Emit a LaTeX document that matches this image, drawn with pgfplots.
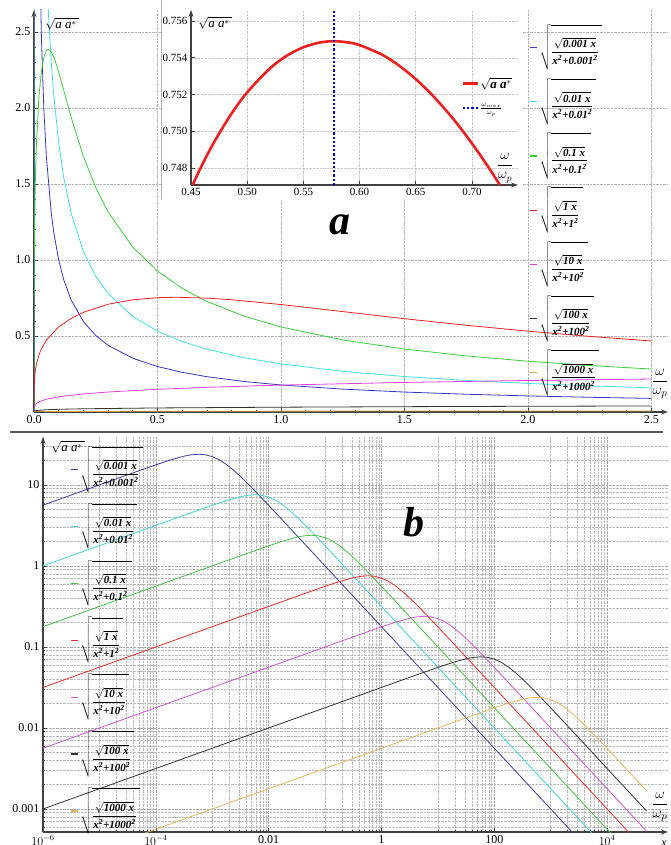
\documentclass[border=0pt]{standalone}
\usepackage{fontspec}
\setmainfont{Liberation Serif}
\usepackage{amsmath}
\usepackage{pgfplots}
\pgfplotsset{compat=1.18}
\usetikzlibrary{arrows.meta}
% top panel colours
\definecolor{cA}{HTML}{3535C8}
\definecolor{cB}{HTML}{40E0E0}
\definecolor{cC}{HTML}{3CCF3C}
\definecolor{cD}{HTML}{EE2020}
\definecolor{cE}{HTML}{E040E0}
\definecolor{cF}{HTML}{333333}
\definecolor{cG}{HTML}{D9A44A}
% bottom panel colours
\definecolor{bA}{HTML}{3A3A9A}
\definecolor{bB}{HTML}{40D4D4}
\definecolor{bC}{HTML}{44C044}
\definecolor{bD}{HTML}{F02828}
\definecolor{bE}{HTML}{CC55CC}
\definecolor{bF}{HTML}{333333}
\definecolor{bG}{HTML}{E2B460}
\newcommand\lf[1]{$\sqrt{\rule[-13pt]{0pt}{40pt}\genfrac{}{}{0.9pt}{0}{\sqrt{\text{\bfseries\itshape #1 x}}}{\text{\bfseries\itshape x\textsuperscript{2}+#1\textsuperscript{2}}}\hspace{3pt}}$}
\pgfplotsset{
  myaxis/.style={
    scale only axis, anchor=south west,
    axis lines=left,
    axis line style={-{Stealth[length=7pt,width=5pt]}, line width=1.1pt, black!75},
    tick align=inside, major tick length=4pt, minor tick length=2pt,
    tick style={black!75, line width=0.6pt},
    ticklabel style={font=\fontsize{12}{14}\selectfont},
    every axis plot/.append style={line width=0.8pt},
  }
}
\begin{document}
\begin{tikzpicture}
\useasboundingbox (0pt,0pt) rectangle (670pt,845pt);
% ---------------- panel a ----------------
\begin{axis}[myaxis,
  width=634pt, height=402pt, at={(34pt,433pt)},
  xmin=0, xmax=2.567, ymin=0, ymax=2.645,
  xtick={0,0.5,1,1.5,2,2.5}, xticklabels={0.0,0.5,1.0,1.5,2.0,2.5},
  ytick={0.5,1,1.5,2,2.5}, yticklabels={0.5,1.0,1.5,2.0,2.5},
  minor x tick num=4, minor y tick num=4,
  grid=major, major grid style={densely dotted, gray!60, line width=0.5pt},
  legend style={draw=none, fill=none, at={(0.781,0.965)}, anchor=north west,
    font=\fontsize{11}{13}\selectfont, inner sep=0pt, row sep=21.8pt,
    nodes={inner xsep=2pt, inner ysep=0pt}},
  legend cell align=left,
  legend image code/.code={\draw[#1, line width=1.3pt] (0pt,-7pt) -- (7pt,-7pt);},
]
\addplot[cA] coordinates {(0,0) (0.000577,23.87) (0.002,16.818) (0.005,9.274) (0.01,5.5955) (0.02,3.3395) (0.03,2.4652) (0.04,1.9876) (0.05,1.6815) (0.07,1.3066) (0.08,1.1821) (0.1,0.99995) (0.12,0.87221) (0.15,0.73784) (0.2,0.59459) (0.25,0.50297) (0.3,0.43870) (0.4,0.35355) (0.5,0.29907) (0.6,0.26085) (0.7,0.23237) (0.85,0.20088) (1,0.17783) (1.25,0.15042) (1.5,0.13121) (1.75,0.11688) (2,0.10574) (2.25,0.096797) (2.5,0.089443)};
\addlegendentry{\lf{0.001}}
\addplot[cB] coordinates {(0,0) (0.0005,4.7228) (0.002,6.5575) (0.00577,7.549) (0.01,7.0711) (0.02,5.3184) (0.03,4.1612) (0.04,3.4300) (0.05,2.9326) (0.06,2.5733) (0.07,2.3003) (0.08,2.0860) (0.1,1.7695) (0.12,1.5457) (0.15,1.3092) (0.2,1.0560) (0.25,0.89372) (0.3,0.77970) (0.4,0.62852) (0.5,0.53172) (0.6,0.46380) (0.7,0.41318) (0.85,0.35722) (1,0.31621) (1.25,0.26749) (1.5,0.23333) (1.75,0.20785) (2,0.18803) (2.25,0.17213) (2.5,0.15905)};
\addlegendentry{\lf{0.01}}
\addplot[cC] coordinates {(0,0) (0.0001,0.56234) (0.0005,0.84088) (0.002,1.18897) (0.005,1.49348) (0.01,1.76945) (0.02,2.07369) (0.03,2.24164) (0.04,2.33501) (0.05,2.37841) (0.0577,2.38722) (0.07,2.36954) (0.085,2.31349) (0.1,2.23607) (0.12,2.11876) (0.15,1.94124) (0.2,1.68179) (0.25,1.47678) (0.3,1.31607) (0.4,1.08465) (0.5,0.92738) (0.6,0.81365) (0.7,0.72743) (0.85,0.63089) (1,0.55955) (1.25,0.47417) (1.5,0.41397) (1.75,0.36899) (2,0.33395) (2.25,0.30580) (2.5,0.28262)};
\addlegendentry{\lf{0.1}}
\addplot[cD] coordinates {(0,0) (0.0001,0.1) (0.001,0.17783) (0.005,0.26591) (0.01,0.31621) (0.02,0.37598) (0.03,0.41599) (0.05,0.47228) (0.1,0.55955) (0.15,0.61545) (0.2,0.65575) (0.3,0.70887) (0.4,0.73839) (0.5,0.75212) (0.57735,0.75490) (0.7,0.74934) (0.8,0.73850) (1,0.70711) (1.2,0.67004) (1.5,0.61388) (1.75,0.57064) (2,0.53183) (2.25,0.49742) (2.5,0.46700)};
\addlegendentry{\lf{1}}
\addplot[cE] coordinates {(0,0) (0.0001,0.017783) (0.001,0.031623) (0.01,0.056234) (0.02,0.066874) (0.05,0.084088) (0.1,0.099995) (0.2,0.11890) (0.3,0.13155) (0.5,0.14935) (0.7,0.16226) (1,0.17695) (1.5,0.19462) (2,0.20737) (2.5,0.21693)};
\addlegendentry{\lf{10}}
\addplot[cF] coordinates {(0,0) (0.0001,0.0031623) (0.001,0.0056234) (0.01,0.01) (0.05,0.014953) (0.1,0.017783) (0.2,0.021147) (0.5,0.026591) (1,0.031621) (1.5,0.034992) (2,0.037598) (2.5,0.039751)};
\addlegendentry{\lf{100}}
\addplot[cG] coordinates {(0,0) (0.001,0.001) (0.01,0.0017783) (0.1,0.0031623) (0.2,0.0037606) (0.5,0.0047287) (1,0.0056234) (1.5,0.0062233) (2,0.0066874) (2.5,0.0070711)};
\addlegendentry{\lf{1000}}
\end{axis}
\node at (62pt,821pt) {\fontsize{13}{15}\selectfont$\sqrt{\textit{a a}^{*}\,}$};
\node at (660pt,461pt) {\fontsize{15}{18}\selectfont$\dfrac{\omega}{\omega_p}$};
% ---------------- inset ----------------
\fill[white] (161pt,645pt) rectangle (522pt,845pt);
\draw[gray!60, line width=0.5pt] (161pt,645pt) -- (161pt,845pt);
\begin{axis}[myaxis,
  width=327pt, height=175pt, at={(191pt,660pt)},
  xmin=0.45, xmax=0.741, ymin=0.74708, ymax=0.7566,
  xtick={0.45,0.5,0.55,0.6,0.65,0.7}, xticklabels={0.45,0.50,0.55,0.60,0.65,0.70},
  ytick={0.748,0.750,0.752,0.754,0.756}, yticklabels={0.748,0.750,0.752,0.754,0.756},
  ticklabel style={font=\fontsize{11}{13}\selectfont},
  grid=major, major grid style={densely dotted, gray!45, line width=0.5pt},
  legend style={draw=none, fill=none, at={(0.818,0.632)}, anchor=north west,
    font=\fontsize{13}{15}\selectfont, row sep=12pt, nodes={inner sep=1pt}},
  legend cell align=left,
  legend image code/.code={\draw[#1] (0pt,0pt) -- (15pt,0pt);},
]
\addplot[cD, line width=2.6pt, smooth] coordinates {(0.45,0.746897) (0.46,0.748187) (0.47,0.749350) (0.485,0.750866) (0.50,0.752121) (0.52,0.753409) (0.535,0.754104) (0.55,0.754574) (0.565,0.754835) (0.57735,0.754902) (0.59,0.754835) (0.60,0.754691) (0.62,0.754169) (0.635,0.753581) (0.65,0.752840) (0.665,0.751951) (0.68,0.750921) (0.69,0.750162) (0.70,0.749345) (0.71,0.748474) (0.72,0.747550) (0.73,0.746576)};
\addlegendentry{$\sqrt{\textbf{\textit{a a}}^{*}}$}
\addplot[blue!85!black, line width=2.2pt, dash pattern=on 2.2pt off 2pt] coordinates {(0.57735,0.74708) (0.57735,0.7566)};
\addlegendentry{\fontsize{10}{11}\selectfont$\frac{\omega_{max}}{\omega_p}$}
\end{axis}
\node at (215pt,822pt) {\fontsize{13}{15}\selectfont$\sqrt{\textit{a a}^{*}\,}$};
\node at (505pt,677pt) {\fontsize{14}{16}\selectfont$\dfrac{\omega}{\omega_p}$};
\node at (340pt,620pt) {\fontsize{42}{46}\selectfont\bfseries\itshape a};
% separator
\draw[black!65, line width=1.2pt] (10pt,413pt) -- (663pt,413pt);
% ---------------- panel b ----------------
\begin{axis}[myaxis,
  width=625pt, height=395pt, at={(43pt,13pt)},
  xmode=log, ymode=log,
  xmin=1e-6, xmax=1.2e5, ymin=5.2e-4, ymax=39,
  xtick={1e-6,1e-4,1e-2,1,100,1e4}, xticklabels={$10^{-6}$,$10^{-4}$,0.01,1,100,$10^{4}$},
  ytick={1e-3,1e-2,0.1,1,10}, yticklabels={0.001,0.01,0.1,1,10},
  minor xtick={1e-5,2e-5,3e-5,4e-5,5e-5,6e-5,7e-5,8e-5,9e-5,1e-3,2e-3,3e-3,4e-3,5e-3,6e-3,7e-3,8e-3,9e-3,0.1,0.2,0.3,0.4,0.5,0.6,0.7,0.8,0.9,10,20,30,40,50,60,70,80,90,1000,2000,3000,4000,5000,6000,7000,8000,9000},
  minor ytick={6e-4,7e-4,8e-4,9e-4,2e-3,3e-3,4e-3,5e-3,6e-3,7e-3,8e-3,9e-3,0.02,0.03,0.04,0.05,0.06,0.07,0.08,0.09,0.2,0.3,0.4,0.5,0.6,0.7,0.8,0.9,2,3,4,5,6,7,8,9,20,30},
  xmajorgrids, ymajorgrids, xminorgrids, yminorgrids,
  major grid style={densely dotted, gray!70, line width=0.5pt},
  minor grid style={densely dotted, gray!55, line width=0.5pt},
  legend style={draw=none, fill=none, at={(0.0432,0.977)}, anchor=north west,
    font=\fontsize{11}{13}\selectfont, inner sep=0pt, row sep=24.5pt,
    nodes={inner xsep=2pt, inner ysep=0pt}},
  legend cell align=left,
  legend image code/.code={\draw[#1, line width=1.3pt] (0pt,-7pt) -- (7pt,-7pt);},
]
\addplot[bA] coordinates {(1e-6,5.6234) (1e-5,9.9995) (3.1623e-5,13.329) (1e-4,17.695) (1.77828e-4,20.218) (3.16228e-4,22.610) (4.21697e-4,23.481) (5.62341e-4,23.869) (5.7735e-4,23.872) (7.49894e-4,23.543) (1e-3,22.361) (1.333521e-3,20.388) (1.778279e-3,17.899) (2.371374e-3,15.248) (3.162278e-3,12.715) (4.216965e-3,10.455) (5.623413e-3,8.5259) (1e-2,5.5957) (1.778279e-2,3.6461) (3.162278e-2,2.3701) (0.1,0.99998) (5e4,5.318e-5)};
\addlegendentry{\lf{0.001}}
\addplot[bB] coordinates {(1e-6,1) (1e-4,3.1621) (3.1623e-4,4.2149) (1e-3,5.5955) (1.77828e-3,6.3935) (3.16228e-3,7.1500) (4.21697e-3,7.4252) (5.62341e-3,7.5481) (5.7735e-3,7.5490) (7.49894e-3,7.4449) (1e-2,7.0711) (1.333521e-2,6.4473) (1.778279e-2,5.6602) (2.371374e-2,4.8219) (3.162278e-2,4.0207) (4.216965e-2,3.3063) (5.623413e-2,2.6961) (0.1,1.7695) (0.1778279,1.1530) (0.3162278,0.74950) (1,0.31622) (5e4,9.457e-5)};
\addlegendentry{\lf{0.01}}
\addplot[bC] coordinates {(1e-6,0.17783) (1e-3,0.99995) (3.1623e-3,1.3329) (1e-2,1.7695) (1.77828e-2,2.0218) (3.16228e-2,2.2610) (4.21697e-2,2.3481) (5.62341e-2,2.3869) (5.7735e-2,2.3872) (7.49894e-2,2.3543) (0.1,2.2361) (0.1333521,2.0388) (0.1778279,1.7899) (0.2371374,1.5248) (0.3162278,1.2715) (0.4216965,1.0455) (0.5623413,0.85259) (1,0.55957) (1.778279,0.36461) (3.162278,0.23701) (10,0.099998) (5e4,1.6818e-4)};
\addlegendentry{\lf{0.1}}
\addplot[bD] coordinates {(1e-6,0.031623) (0.01,0.31621) (0.031623,0.42149) (0.1,0.55955) (0.177828,0.63935) (0.316228,0.71500) (0.421697,0.74252) (0.562341,0.75481) (0.57735,0.75490) (0.749894,0.74449) (1,0.70711) (1.333521,0.64473) (1.778279,0.56602) (2.371374,0.48219) (3.162278,0.40207) (4.216965,0.33063) (5.623413,0.26961) (10,0.17695) (17.78279,0.11530) (31.62278,0.074950) (100,0.031622) (5e4,2.991e-4)};
\addlegendentry{\lf{1}}
\addplot[bE] coordinates {(1e-6,0.0056234) (0.1,0.099995) (0.31623,0.13329) (1,0.17695) (1.77828,0.20218) (3.16228,0.22610) (4.21697,0.23481) (5.62341,0.23869) (5.7735,0.23872) (7.49894,0.23543) (10,0.22361) (13.33521,0.20388) (17.78279,0.17899) (23.71374,0.15248) (31.62278,0.12715) (42.16965,0.10455) (56.23413,0.085259) (100,0.055957) (177.8279,0.036461) (316.2278,0.023701) (1000,0.0099998) (5e4,5.318e-4)};
\addlegendentry{\lf{10}}
\addplot[bF] coordinates {(1e-6,0.001) (1,0.031621) (3.1623,0.042149) (10,0.055955) (17.7828,0.063935) (31.6228,0.071500) (42.1697,0.074252) (56.2341,0.075481) (57.735,0.075490) (74.9894,0.074449) (100,0.070711) (133.3521,0.064473) (177.8279,0.056602) (237.1374,0.048219) (316.2278,0.040207) (421.6965,0.033063) (562.3413,0.026961) (1000,0.017695) (1778.279,0.011530) (3162.278,0.0074950) (1e4,0.0031622) (5e4,9.457e-4)};
\addlegendentry{\lf{100}}
\addplot[bG] coordinates {(1e-5,3.1623e-4) (10,0.0099995) (31.623,0.013329) (100,0.017695) (177.828,0.020218) (316.228,0.022610) (421.697,0.023481) (562.341,0.023869) (577.35,0.023872) (749.894,0.023543) (1000,0.022361) (1333.521,0.020388) (1778.279,0.017899) (2371.374,0.015248) (3162.278,0.012715) (4216.965,0.010455) (5623.413,0.0085259) (1e4,0.0055957) (17782.79,0.0036461) (31622.78,0.0023701) (5e4,0.0016814)};
\addlegendentry{\lf{1000}}
\end{axis}
\node at (68pt,398pt) {\fontsize{13}{15}\selectfont$\sqrt{\textit{a a}^{*}\,}$};
\node at (660pt,38pt) {\fontsize{15}{18}\selectfont$\dfrac{\omega}{\omega_p}$};
\node at (664pt,1pt) {\fontsize{12}{14}\selectfont\textit{x}};
\node at (414pt,323pt) {\fontsize{42}{46}\selectfont\bfseries\itshape b};
\end{tikzpicture}
\end{document}
